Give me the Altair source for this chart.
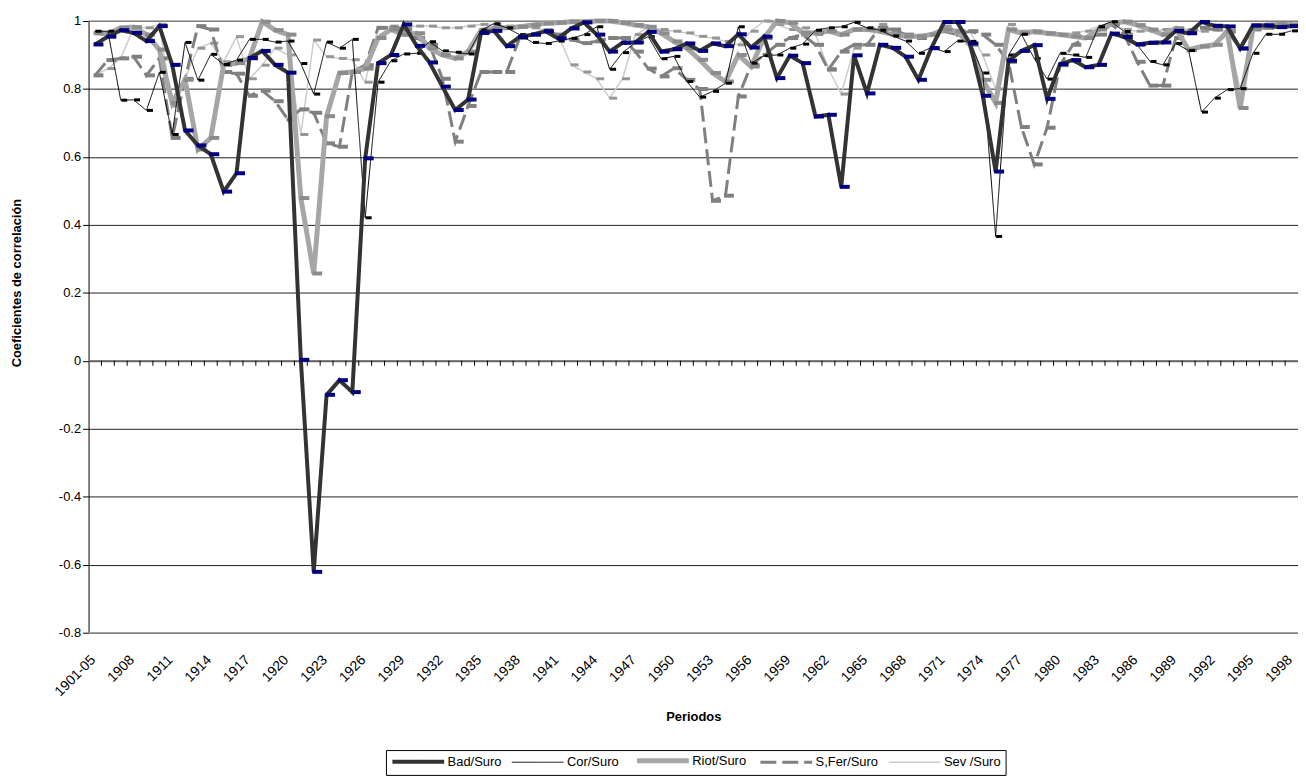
import altair as alt
import pandas as pd

periods = ["1901-05"] + [str(y) for y in range(1906, 1999)]
label_periods = periods[::3]
y_ticks = [-0.8, -0.6, -0.4, -0.2, 0.0, 0.2, 0.4, 0.6, 0.8, 1.0]

bad = [0.931, 0.954, 0.973, 0.965, 0.941, 0.985, 0.871, 0.678, 0.634, 0.608,
       0.498, 0.552, 0.891, 0.912, 0.871, 0.848, 0.003, -0.621, -0.100, -0.057,
       -0.092, 0.596, 0.876, 0.900, 0.990, 0.927, 0.878, 0.807, 0.738, 0.769,
       0.965, 0.971, 0.926, 0.953, 0.960, 0.970, 0.949, 0.978, 0.996, 0.960,
       0.910, 0.936, 0.937, 0.968, 0.910, 0.917, 0.934, 0.912, 0.934, 0.926,
       0.961, 0.922, 0.954, 0.832, 0.898, 0.876, 0.719, 0.724, 0.512, 0.899,
       0.787, 0.930, 0.921, 0.895, 0.827, 0.920, 0.997, 0.997, 0.934, 0.780,
       0.557, 0.883, 0.912, 0.929, 0.771, 0.873, 0.885, 0.864, 0.871, 0.963,
       0.953, 0.931, 0.936, 0.937, 0.971, 0.964, 0.997, 0.986, 0.984, 0.919,
       0.987, 0.987, 0.982, 0.985]

cor = [0.970, 0.970, 0.767, 0.768, 0.737, 0.849, 0.666, 0.937, 0.826, 0.902,
       0.872, 0.885, 0.946, 0.946, 0.938, 0.941, 0.875, 0.785, 0.938, 0.920,
       0.946, 0.421, 0.820, 0.883, 0.903, 0.905, 0.939, 0.912, 0.908, 0.903,
       0.973, 0.992, 0.980, 0.960, 0.937, 0.934, 0.941, 0.949, 0.960, 0.983,
       0.858, 0.907, 0.936, 0.954, 0.889, 0.896, 0.822, 0.776, 0.793, 0.817,
       0.983, 0.876, 0.898, 0.900, 0.920, 0.932, 0.973, 0.980, 0.983, 0.996,
       0.980, 0.973, 0.956, 0.941, 0.905, 0.922, 0.910, 0.941, 0.940, 0.847,
       0.366, 0.900, 0.961, 0.890, 0.829, 0.905, 0.900, 0.893, 0.983, 0.998,
       0.969, 0.930, 0.881, 0.871, 0.934, 0.913, 0.732, 0.773, 0.798, 0.801,
       0.905, 0.961, 0.961, 0.971]

riot = [0.965, 0.962, 0.980, 0.982, 0.960, 0.916, 0.759, 0.827, 0.622, 0.656,
        0.871, 0.876, 0.890, 0.998, 0.973, 0.960, 0.479, 0.257, 0.720, 0.847,
        0.850, 0.860, 0.950, 0.975, 0.960, 0.964, 0.920, 0.900, 0.890, 0.910,
        0.973, 0.978, 0.980, 0.983, 0.988, 0.993, 0.995, 0.998, 0.998, 1.000,
        1.000, 0.995, 0.988, 0.983, 0.964, 0.940, 0.920, 0.886, 0.847, 0.822,
        0.900, 0.866, 0.950, 1.000, 0.995, 0.965, 0.965, 0.970, 0.960, 0.975,
        0.975, 0.970, 0.960, 0.955, 0.955, 0.960, 0.975, 0.970, 0.930, 0.827,
        0.759, 0.975, 0.964, 0.969, 0.964, 0.960, 0.955, 0.950, 0.975, 0.993,
        0.998, 0.988, 0.975, 0.960, 0.978, 0.915, 0.925, 0.930, 0.969, 0.744,
        0.978, 0.988, 0.990, 0.990]

sfer = [0.840, 0.885, 0.890, 0.895, 0.840, 0.890, 0.656, 0.830, 0.985, 0.975,
        0.850, 0.845, 0.780, 0.795, 0.764, 0.710, 0.740, 0.730, 0.640, 0.630,
        0.850, 0.870, 0.980, 0.980, 0.975, 0.950, 0.930, 0.830, 0.645, 0.750,
        0.850, 0.850, 0.850, 0.950, 0.960, 0.970, 0.960, 0.945, 0.935, 0.940,
        0.950, 0.950, 0.910, 0.860, 0.837, 0.861, 0.827, 0.800, 0.471, 0.486,
        0.778, 0.870, 0.900, 0.930, 0.950, 0.960, 0.930, 0.857, 0.910, 0.930,
        0.930, 0.980, 0.975, 0.960, 0.950, 0.960, 0.970, 0.960, 0.970, 0.960,
        0.930, 0.880, 0.688, 0.578, 0.686, 0.870, 0.930, 0.950, 0.960, 0.990,
        0.960, 0.880, 0.810, 0.810, 0.950, 0.970, 0.980, 0.975, 0.970, 0.920,
        0.975, 0.980, 0.985, 0.985]

sev = [0.840, 0.860, 0.890, 0.980, 0.980, 0.990, 0.750, 0.830, 0.920, 0.935,
       0.880, 0.954, 0.830, 0.870, 0.920, 0.900, 0.666, 0.944, 0.895, 0.890,
       0.886, 0.820, 0.980, 0.985, 0.980, 0.985, 0.985, 0.980, 0.980, 0.985,
       0.990, 0.990, 0.985, 0.985, 0.980, 0.975, 0.959, 0.871, 0.850, 0.830,
       0.773, 0.830, 0.960, 0.980, 0.975, 0.970, 0.965, 0.955, 0.950, 0.940,
       0.930, 0.970, 1.000, 0.990, 0.975, 0.980, 0.960, 0.860, 0.785, 0.920,
       0.930, 0.990, 0.970, 0.960, 0.950, 0.960, 0.985, 0.960, 0.970, 0.900,
       0.800, 0.990, 0.970, 0.965, 0.960, 0.960, 0.965, 0.970, 0.985, 0.990,
       0.975, 0.970, 0.970, 0.975, 0.980, 0.975, 0.970, 0.975, 0.970, 0.800,
       0.980, 0.985, 0.985, 0.990]

series = ["Bad/Suro", "Cor/Suro", "Riot/Suro", "S,Fer/Suro", "Sev /Suro"]
series_values = [bad, cor, riot, sfer, sev]
line_colors = ["#333333", "#000000", "#a6a6a6", "#808080", "#cccccc"]
line_widths = [4, 1, 5, 3, 1.5]
line_dashes = [[1, 0], [1, 0], [1, 0], [16, 6], [1, 0]]
marker_colors = ["#000080", "#000000", "#8c8c8c", "#808080", "#969696"]
marker_w = [10, 6, 10, 10, 8]
marker_h = [4, 3, 4, 4, 3]

rows = []
for name, vals in zip(series, series_values):
    for p, v in zip(periods, vals):
        rows.append({"periodo": p, "serie": name, "valor": v})
df = pd.DataFrame(rows)

W, H = 1216, 615
step = W / len(periods)

font = "Liberation Sans"

x_enc = alt.X(
    "periodo:N",
    scale=alt.Scale(type="point", padding=0.5, domain=periods),
    axis=alt.Axis(values=label_periods, labelAngle=-45, labelAlign="right",
                  labelBaseline="middle", labelPadding=25, labelOffset=-2,
                  ticks=False, domain=False, grid=False, labelOverlap=False,
                  labelFontSize=14, labelColor="black", labelFont=font,
                  title="Periodos", titleFontSize=13, titleFontWeight="bold",
                  titleColor="black", titleFont=font, titleY=84,
                  titleBaseline="middle"),
)
y_enc = alt.Y(
    "valor:Q",
    scale=alt.Scale(domain=[-0.8, 1.0], nice=False, zero=False),
    axis=alt.Axis(values=y_ticks,
                  labelExpr="toString(round(datum.value*10)/10)",
                  grid=True, gridColor="#222222", gridWidth=1,
                  domainColor="black", tickColor="black", tickSize=6,
                  labelPadding=2, labelFontSize=13, labelColor="black",
                  labelFont=font,
                  title="Coeficientes de correlación", titleFontSize=13,
                  titleFontWeight="bold", titleColor="black", titleFont=font,
                  titleX=-72, titleY=263, titleBaseline="middle",
                  titleAlign="center"),
)

# legend: long stroke sample drawn with a custom path
leg = alt.Legend(title=None, orient="none", legendX=299, legendY=733,
                 direction="horizontal", columns=5,
                 symbolType="M-6.5,0L6.5,0", symbolSize=64,
                 symbolOffset=22, labelOffset=23,
                 labelFontSize=13, labelColor="black",
                 labelFont=font, strokeColor="black", padding=4,
                 columnPadding=7, symbolOpacity=1,
                 symbolFillColor="transparent")

color_scale = alt.Scale(domain=series, range=line_colors)
width_scale = alt.Scale(type="ordinal", domain=series, range=line_widths)
dash_scale = alt.Scale(type="ordinal", domain=series, range=line_dashes)

base = alt.Chart(df)

border_df = pd.DataFrame({"valor": [1.0, -0.8]})
border = alt.Chart(border_df).mark_rule(color="#a0a0a0", strokeWidth=1.5).encode(y=y_enc)
zero_df = pd.DataFrame({"valor": [0.0]})
zero = alt.Chart(zero_df).mark_rule(color="#808080", strokeWidth=1.5).encode(y=y_enc)
tick_df = pd.DataFrame({"periodo": periods[1:], "valor": [0.0] * (len(periods) - 1)})
ticks = alt.Chart(tick_df).mark_tick(
    orient="vertical", size=5, thickness=1, color="black",
    xOffset=-step / 2, yOffset=2.5, opacity=1
).encode(x=x_enc, y=y_enc)

layers = [border, zero, ticks]
for k in [4, 3, 2, 1, 0]:
    sub = base.transform_filter(alt.datum.serie == series[k])
    line = sub.mark_line(strokeJoin="miter", strokeCap="butt").encode(
        x=x_enc, y=y_enc,
        color=alt.Color("serie:N", scale=color_scale, legend=leg),
        strokeWidth=alt.StrokeWidth("serie:N", scale=width_scale, legend=leg),
        strokeDash=alt.StrokeDash("serie:N", scale=dash_scale, legend=leg),
    )
    r = marker_h[k] / marker_w[k]
    path = f"M-1,-{r}L1,-{r}L1,{r}L-1,{r}Z"
    mk = sub.mark_point(shape=path, filled=True, size=marker_w[k] ** 2,
                        color=marker_colors[k], opacity=1, strokeWidth=0,
                        xOffset=3.5).encode(x=x_enc, y=y_enc)
    layers += [line, mk]

chart = alt.layer(*layers).properties(
    width=W, height=H,
    autosize=alt.AutoSizeParams(type="none"),
    padding={"left": 81, "top": 11, "right": 0, "bottom": 142},
).configure(font=font).configure_view(stroke=None)

chart.save("out.html", embed_options={"renderer": "svg", "actions": False})
